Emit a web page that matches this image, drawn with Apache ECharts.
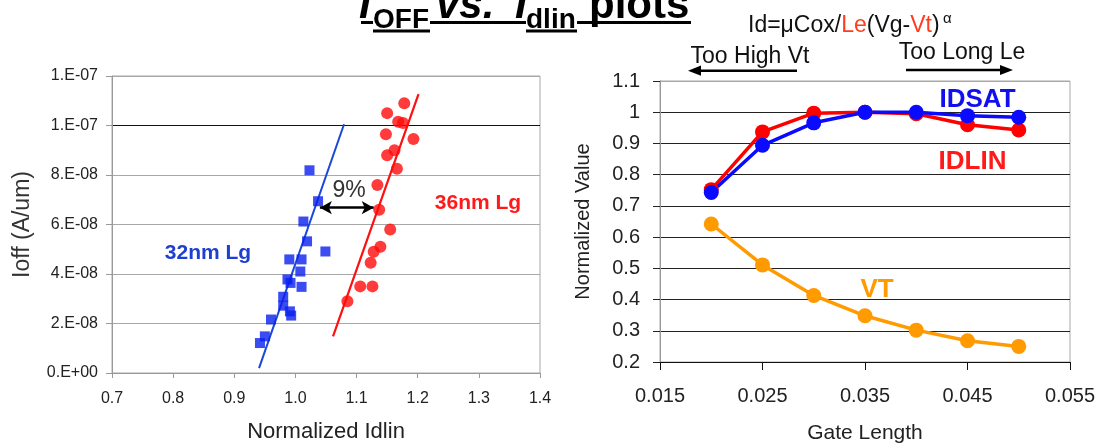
<!DOCTYPE html>
<html><head><meta charset="utf-8">
<script src="https://cdn.jsdelivr.net/npm/echarts@6/dist/echarts.min.js"></script>
<style>html,body{margin:0;padding:0;background:#fff}#c{width:1099px;height:445px}</style>
</head><body><div id="c"></div>
<script>
// ---- Left panel: Ioff vs normalized Idlin ----
const lg32Idlin = [1.023,1.037,1.013,1.019,1.049,0.990,1.010,1.008,0.987,0.992,1.010,0.980,0.980,0.991,0.993,0.960,0.950,0.942];
const lg32Ioff  = [8.19e-8,6.94e-8,6.12e-8,5.32e-8,4.91e-8,4.59e-8,4.59e-8,4.10e-8,3.78e-8,3.64e-8,3.48e-8,3.08e-8,2.72e-8,2.49e-8,2.32e-8,2.16e-8,1.48e-8,1.21e-8];
const lg36Idlin = [1.178,1.150,1.168,1.176,1.148,1.193,1.162,1.150,1.166,1.134,1.137,1.155,1.139,1.128,1.123,1.106,1.126,1.085];
const lg36Ioff  = [10.9e-8,10.5e-8,10.15e-8,10.1e-8,9.65e-8,9.45e-8,9.0e-8,8.8e-8,8.25e-8,7.6e-8,6.6e-8,5.8e-8,5.1e-8,4.9e-8,4.45e-8,3.5e-8,3.5e-8,2.9e-8];
const fit32Idlin = [0.9405,1.0795];
const fit32Ioff  = [0.2e-8,10.05e-8];
const fit36Idlin = [1.0615,1.2013];
const fit36Ioff  = [1.48e-8,11.27e-8];
const gapIdlin = [1.040,1.128];
const gapIoff = 6.68e-8;
const leftYTickLabels = ['0.E+00','2.E-08','4.E-08','6.E-08','8.E-08','1.E-07','1.E-07'];

// ---- Right panel: normalized value vs gate length ----
const gateLength = [0.020,0.025,0.030,0.035,0.040,0.045,0.050];
const idsat = [0.743,0.894,0.966,1.000,1.000,0.989,0.984];
const idlin = [0.752,0.937,0.997,1.000,0.995,0.960,0.943];
const vt    = [0.642,0.511,0.413,0.348,0.302,0.268,0.250];
const rightXTickLabels = ['0.015','0.025','0.035','0.045','0.055'];

const zip = (a,b) => a.map((v,i)=>[v,b[i]]);
const F = 'Arial, "Liberation Sans", sans-serif';

const chart = echarts.init(document.getElementById('c'), null, {renderer:'canvas'});
const gridGray = '#a8a8a8';

function txt(x, y, text, font, fill, align) {
  return {type:'text', x:x, y:y, silent:true, style:{text:text, font:font, fill:fill||'#000', align:align||'left', verticalAlign:'middle'}};
}
function ln(x1,y1,x2,y2,w,c){
  return {type:'line', silent:true, shape:{x1:x1,y1:y1,x2:x2,y2:y2}, style:{stroke:c||'#000', lineWidth:w}};
}
function tri(pts){
  return {type:'polygon', silent:true, shape:{points:pts}, style:{fill:'#000'}};
}

const option = {
  animation:false,
  backgroundColor:'#fff',
  grid:[
    {left:112, top:76, width:428, height:297, show:true, borderColor:gridGray, borderWidth:1, containLabel:false, outerBoundsMode:'none'},
    {left:660, top:81, width:410, height:281, show:true, borderColor:gridGray, borderWidth:1, containLabel:false, outerBoundsMode:'none'}
  ],
  xAxis:[
    {gridIndex:0, type:'value', min:0.7, max:1.4, interval:0.1,
     axisLine:{lineStyle:{color:'#999'}}, axisTick:{show:true, length:5, lineStyle:{color:'#999'}},
     axisLabel:{fontFamily:F, fontSize:16, color:'#222', margin:18, formatter:v=>v.toFixed(1)},
     splitLine:{show:false},
     name:'Normalized Idlin', nameLocation:'middle', nameGap:48,
     nameTextStyle:{fontFamily:F, fontSize:22, color:'#222'}},
    {gridIndex:1, type:'value', min:0.015, max:0.055, interval:0.01,
     axisLine:{lineStyle:{color:'#111'}}, axisTick:{show:true, length:8, lineStyle:{color:'#111'}},
     axisLabel:{fontFamily:F, fontSize:20, color:'#222', margin:24,
       formatter:(v)=>rightXTickLabels[Math.round((v-0.015)/0.01)]},
     splitLine:{show:false},
     name:'Gate Length', nameLocation:'middle', nameGap:61,
     nameTextStyle:{fontFamily:F, fontSize:21, color:'#222'}}
  ],
  yAxis:[
    {gridIndex:0, type:'value', min:0, max:1.2e-7, interval:2e-8,
     axisLine:{show:true, lineStyle:{color:'#999'}}, axisTick:{show:true, length:6, lineStyle:{color:'#999'}},
     axisLabel:{fontFamily:F, fontSize:16, color:'#222', margin:14,
       formatter:(v)=>leftYTickLabels[Math.round(v/2e-8)]},
     splitLine:{show:true, lineStyle:{width:1, color:[gridGray,gridGray,gridGray,gridGray,gridGray,'#111',gridGray]}},
     name:'Ioff (A/um)', nameLocation:'middle', nameGap:78,
     nameTextStyle:{fontFamily:F, fontSize:23, color:'#333'}},
    {gridIndex:1, type:'value', min:0.2, max:1.1, interval:0.1,
     axisLine:{show:true, lineStyle:{color:'#999'}}, axisTick:{show:true, length:7, lineStyle:{color:'#222'}},
     axisLabel:{fontFamily:F, fontSize:20, color:'#222', margin:20},
     splitLine:{show:true, lineStyle:{width:1, color:['#222','#222','#222','#222','#222','#222','#222','#222','#222',gridGray]}},
     name:'Normalized Value', nameLocation:'middle', nameGap:67,
     nameTextStyle:{fontFamily:F, fontSize:20, color:'#222'}}
  ],
  series:[
    {type:'line', xAxisIndex:0, yAxisIndex:0, data:zip(fit32Idlin, fit32Ioff), symbol:'none',
     lineStyle:{color:'#1848d8', width:2}, z:3},
    {type:'line', xAxisIndex:0, yAxisIndex:0, data:zip(fit36Idlin, fit36Ioff), symbol:'none',
     lineStyle:{color:'#ff1010', width:2.2}, z:3},
    {type:'scatter', name:'32nm Lg', xAxisIndex:0, yAxisIndex:0, data:zip(lg32Idlin, lg32Ioff),
     symbol:'rect', symbolSize:10, itemStyle:{color:'#0a1ff0'}, z:4},
    {type:'scatter', name:'36nm Lg', xAxisIndex:0, yAxisIndex:0, data:zip(lg36Idlin, lg36Ioff),
     symbol:'circle', symbolSize:12, itemStyle:{color:'#ff0a0a'}, z:4,
     markLine:{silent:true, symbol:['arrow','arrow'], symbolSize:[10,12], label:{show:false},
       lineStyle:{color:'#000', width:2.5, type:'solid'},
       data:[[{coord:[gapIdlin[0], gapIoff]},{coord:[gapIdlin[1], gapIoff]}]]}},
    {type:'line', name:'IDLIN', xAxisIndex:1, yAxisIndex:1, data:zip(gateLength, idlin),
     symbol:'circle', symbolSize:15, lineStyle:{color:'#ff0000', width:3.5}, itemStyle:{color:'#ff0000'}},
    {type:'line', name:'IDSAT', xAxisIndex:1, yAxisIndex:1, data:zip(gateLength, idsat),
     symbol:'circle', symbolSize:15, lineStyle:{color:'#0a0aff', width:3.5}, itemStyle:{color:'#0a0aff'}},
    {type:'line', name:'VT', xAxisIndex:1, yAxisIndex:1, data:zip(gateLength, vt),
     symbol:'circle', symbolSize:15, lineStyle:{color:'#ff9a00', width:3.5}, itemStyle:{color:'#ff9a00'}}
  ],
  graphic:[
    // Title
    txt(359, 6, 'I', 'italic bold 42px '+F),
    txt(373, 20.3, 'OFF', 'bold 28px '+F),
    txt(436, 6, 'vs.', 'italic bold 42px '+F),
    txt(515, 6, 'I', 'italic bold 42px '+F),
    txt(526, 20.3, 'dlin', 'bold 28px '+F),
    txt(589, 6, 'plots', 'bold 42px '+F),
    ln(361,22.5,373,22.5,3), ln(430,22.5,526,22.5,3), ln(577,22.5,691,22.5,3),
    ln(373,31,430,31,3), ln(526,31,577,31,3),
    // Left annotations
    txt(208, 253.3, '32nm Lg', 'bold 21px '+F, '#1f3fd0', 'center'),
    txt(478, 203.3, '36nm Lg', 'bold 21px '+F, '#ff1a1a', 'center'),
    txt(349, 191, '9%', '23px '+F, '#333', 'center'),
    // Right annotations
    {type:'text', x:748, y:25.6, silent:true, style:{
      text:'{k|Id=\u03bcCox/}{r|Le}{k|(Vg-}{r|Vt}{k|)}', verticalAlign:'middle',
      rich:{k:{font:'23px '+F, fill:'#111'}, r:{font:'23px '+F, fill:'#ff3c1e'}}}},
    txt(943, 19, '\u03b1', '15px '+F, '#111'),
    txt(750, 56.2, 'Too High Vt', '23px '+F, '#111', 'center'),
    txt(962, 52.9, 'Too Long Le', '23px '+F, '#111', 'center'),
    ln(698,70.7,797,70.7,2.5), tri([[688,70.7],[701,65.6],[701,75.8]]),
    ln(906,70,1003,70,2.5), tri([[1013,70],[1000,64.9],[1000,75.1]]),
    txt(977.5, 100, 'IDSAT', 'bold 26px '+F, '#1010ee', 'center'),
    txt(972.5, 161.7, 'IDLIN', 'bold 26px '+F, '#ff1a1a', 'center'),
    txt(877, 289.7, 'VT', 'bold 26px '+F, '#ff9a00', 'center')
  ]
};
chart.setOption(option);
</script></body></html>
